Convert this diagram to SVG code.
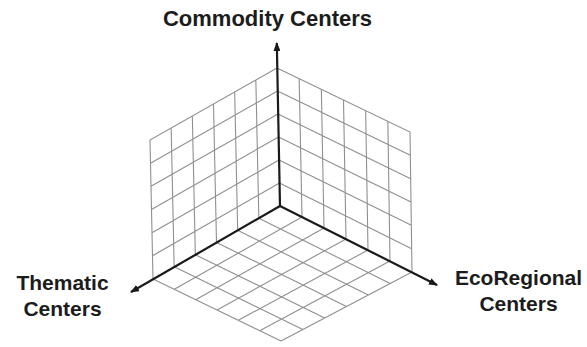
<svg xmlns="http://www.w3.org/2000/svg" width="587" height="347" viewBox="0 0 587 347">
<style>
.grid{stroke:#8f8f8f;stroke-width:1.1;fill:none}
.axis{stroke:#1a1a1a;stroke-width:2.2;fill:none;marker-end:url(#arr)}
.lbl{font-family:"Liberation Sans",Arial,sans-serif;font-weight:bold;fill:#1c1c1c;text-anchor:middle}
</style>
<defs>
<marker id="arr" markerUnits="userSpaceOnUse" markerWidth="9" markerHeight="7" refX="8" refY="3.5" orient="auto">
<path d="M0,0 L9,3.5 L0,7 z" fill="#1a1a1a"/>
</marker>
</defs>
<rect width="587" height="347" fill="#fff"/>
<g id="wall-left" class="grid">
<path d="M277,68 L150,140 L153,279 M255.83,80 L258.83,218.17 M234.67,92 L237.67,230.33 M213.5,104 L216.5,242.5 M192.33,116 L195.33,254.67 M171.17,128 L174.17,266.83 M277.5,91 L150.5,163.17 M278,114 L151,186.33 M278.5,137 L151.5,209.5 M279,160 L152,232.67 M279.5,183 L152.5,255.83"/>
</g>
<g id="wall-right" class="grid">
<path d="M277,68 L410,132 L412,272 M299.17,78.67 L302,217 M321.33,89.33 L324,228 M343.5,100 L346,239 M365.67,110.67 L368,250 M387.83,121.33 L390,261 M277.5,91 L410.33,155.33 M278,114 L410.67,178.67 M278.5,137 L411,202 M279,160 L411.33,225.33 M279.5,183 L411.67,248.67"/>
</g>
<g id="floor" class="grid">
<path d="M302,217 L174.33,289.33 M324,228 L195.67,299.67 M346,239 L217,310 M368,250 L238.33,320.33 M390,261 L259.67,330.67 M412,272 L281,341 M258.83,218.17 L390.17,283.5 M237.67,230.33 L368.33,295 M216.5,242.5 L346.5,306.5 M195.33,254.67 L324.67,318 M174.17,266.83 L302.83,329.5 M153,279 L281,341"/>
</g>
<g id="axes">
<path class="axis" d="M280,206 L276.8,43"/>
<path class="axis" d="M280,206 L131,292"/>
<path class="axis" d="M280,206 L437,285"/>
</g>
<g id="label-commodity"><text class="lbl" x="267.5" y="26" font-size="22">Commodity Centers</text></g>
<g id="label-thematic"><text class="lbl" font-size="21"><tspan x="62.5" y="290">Thematic</tspan><tspan x="62.5" y="316">Centers</tspan></text></g>
<g id="label-ecoregional"><text class="lbl" font-size="21"><tspan x="518.5" y="285">EcoRegional</tspan><tspan x="518.5" y="311">Centers</tspan></text></g>
</svg>
